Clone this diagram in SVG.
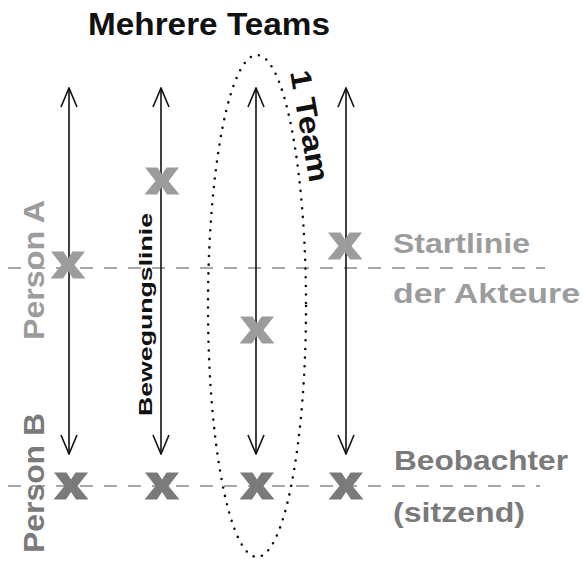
<svg xmlns="http://www.w3.org/2000/svg" xmlns:xlink="http://www.w3.org/1999/xlink" width="584" height="561" viewBox="0 0 584 561">
<style>
.t{font-family:"Liberation Sans","DejaVu Sans",sans-serif;font-weight:bold}
.blk{fill:#111}
.g1{fill:#9c9c9c}
.g2{fill:#7a7a7a}
.arrow{stroke:#111;stroke-width:1.6;fill:none;marker-start:url(#ah);marker-end:url(#ah)}
.dash{stroke:#8a8a8a;stroke-width:1.6;stroke-dasharray:13 11;fill:none}
.dots{stroke:#111;stroke-width:2.6;stroke-linecap:round;stroke-dasharray:0 8.6;fill:none}
</style>
<defs>
<marker id="ah" viewBox="-1 -9 21 18" refX="19" refY="0" markerWidth="21" markerHeight="18" markerUnits="userSpaceOnUse" orient="auto-start-reverse">
<path d="M0,-8 L19,0 L0,8" fill="none" stroke="#111" stroke-width="1.6"/>
</marker>
<path id="xm" d="M-17,-13.5 L-4.5,-13.5 L0,-6.5 L4.5,-13.5 L17,-13.5 L6.5,0 L17.5,13.5 L5,13.5 L0,6 L-5,13.5 L-17.5,13.5 L-6.5,0 Z"/>
</defs>
<rect width="584" height="561" fill="#fff"/>
<g id="title"><text class="t blk" x="88" y="35" font-size="31" textLength="242" lengthAdjust="spacingAndGlyphs">Mehrere Teams</text></g>
<g id="connectors">
<line class="dash" x1="8" y1="268" x2="545" y2="268"/>
<line class="dash" x1="8" y1="486" x2="540" y2="486"/>
<line class="arrow" x1="69" y1="88" x2="69" y2="454"/>
<line class="arrow" x1="161" y1="88" x2="161" y2="454"/>
<line class="arrow" x1="256" y1="88" x2="256" y2="454"/>
<line class="arrow" x1="346" y1="88" x2="346" y2="454"/>
<ellipse class="dots" cx="257" cy="306" rx="49" ry="251"/>
</g>
<g id="marks-start" class="g1">
<use xlink:href="#xm" x="68" y="265"/>
<use xlink:href="#xm" x="162" y="181"/>
<use xlink:href="#xm" x="257" y="330"/>
<use xlink:href="#xm" x="345" y="246"/>
</g>
<g id="marks-observer" class="g2">
<use xlink:href="#xm" x="71" y="486"/>
<use xlink:href="#xm" x="162" y="486"/>
<use xlink:href="#xm" x="257" y="486"/>
<use xlink:href="#xm" x="346" y="486"/>
</g>
<g id="team-label"><text class="t blk" font-size="29" textLength="113" lengthAdjust="spacingAndGlyphs" transform="translate(290,72) rotate(80)">1 Team</text></g>
<g id="person-a"><text class="t g1" font-size="29" textLength="140" lengthAdjust="spacingAndGlyphs" transform="translate(44,340) rotate(-90)">Person A</text></g>
<g id="person-b"><text class="t g2" font-size="29" textLength="140" lengthAdjust="spacingAndGlyphs" transform="translate(44,553) rotate(-90)">Person B</text></g>
<g id="bewegungslinie"><text class="t blk" font-size="19" textLength="203" lengthAdjust="spacingAndGlyphs" transform="translate(152,416) rotate(-90)">Bewegungslinie</text></g>
<g id="startlinie">
<text class="t g1" x="393" y="253" font-size="27" textLength="137" lengthAdjust="spacingAndGlyphs">Startlinie</text>
<text class="t g1" x="393" y="303" font-size="27" textLength="187" lengthAdjust="spacingAndGlyphs">der Akteure</text>
</g>
<g id="beobachter">
<text class="t g2" x="394" y="470" font-size="27" textLength="174" lengthAdjust="spacingAndGlyphs">Beobachter</text>
<text class="t g2" x="393" y="522" font-size="27" textLength="132" lengthAdjust="spacingAndGlyphs">(sitzend)</text>
</g>
</svg>
